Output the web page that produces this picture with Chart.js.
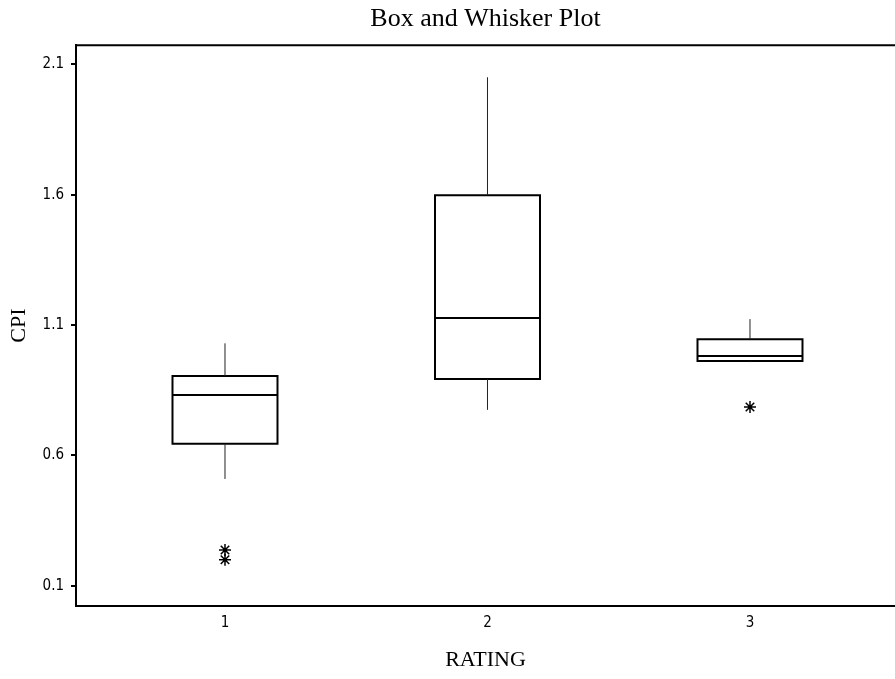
<!DOCTYPE html>
<html>
<head>
<meta charset="utf-8">
<title>Box and Whisker Plot</title>
<script src="https://cdn.jsdelivr.net/npm/chart.js@4.4.1/dist/chart.umd.min.js"></script>
<style>
    html, body { margin: 0; padding: 0; background: #fff; overflow: hidden; }
    #wrap { width: 895px; height: 679px; }
</style>
</head>
<body>
<div id="wrap"><canvas id="boxChart"></canvas></div>
<script>
// CPI by rating group
const ratings = ['1', '2', '3'];
const whiskerLow = [0.51, 0.775, 0.958];
const q1 = [0.645, 0.893, 0.962];
const medians = [0.832, 1.127, 0.981];
const q3 = [0.905, 1.598, 1.046];
const whiskerHigh = [1.03, 2.05, 1.123];
const outliers = [[0.238, 0.2], [], [0.786]];
const yTicks = [0.1, 0.6, 1.1, 1.6, 2.1];

const halfWidth = 0.2; // half box width in rating units
const gap = x => ({ x: x, y: null });

const boxPoints = [];
const medianPoints = [];
const whiskerPoints = [];
const outlierPoints = [];

ratings.forEach((r, i) => {
    const x = i + 1;
    boxPoints.push(
        { x: x - halfWidth, y: q1[i] },
        { x: x + halfWidth, y: q1[i] },
        { x: x + halfWidth, y: q3[i] },
        { x: x - halfWidth, y: q3[i] },
        { x: x - halfWidth, y: q1[i] },
        gap(x)
    );
    medianPoints.push(
        { x: x - halfWidth, y: medians[i] },
        { x: x + halfWidth, y: medians[i] },
        gap(x)
    );
    whiskerPoints.push(
        { x: x, y: q3[i] }, { x: x, y: whiskerHigh[i] }, gap(x),
        { x: x, y: whiskerLow[i] }, { x: x, y: q1[i] }, gap(x)
    );
    outliers[i].forEach(v => outlierPoints.push({ x: x, y: v }));
});

const serif = "'Liberation Serif', 'Times New Roman', serif";
const narrow = "'Liberation Sans Narrow', 'DejaVu Sans Condensed', sans-serif";

// top edge of the plot frame
const frameTop = {
    id: 'frameTop',
    afterDraw(chart) {
        const { ctx, chartArea } = chart;
        ctx.save();
        ctx.strokeStyle = '#000';
        ctx.lineWidth = 2;
        ctx.beginPath();
        ctx.moveTo(chartArea.left - 1, chartArea.top);
        ctx.lineTo(chartArea.right, chartArea.top);
        ctx.stroke();
        ctx.restore();
    }
};

new Chart(document.getElementById('boxChart'), {
    type: 'scatter',
    data: {
        datasets: [
            {
                label: 'Whiskers',
                data: whiskerPoints,
                showLine: true,
                spanGaps: false,
                borderColor: '#222',
                borderWidth: 1,
                pointRadius: 0
            },
            {
                label: 'Boxes',
                data: boxPoints,
                showLine: true,
                spanGaps: false,
                borderColor: '#000',
                borderWidth: 2,
                borderJoinStyle: 'miter',
                borderCapStyle: 'square',
                pointRadius: 0
            },
            {
                label: 'Medians',
                data: medianPoints,
                showLine: true,
                spanGaps: false,
                borderColor: '#000',
                borderWidth: 2,
                pointRadius: 0
            },
            {
                label: 'Outliers',
                data: outlierPoints,
                pointStyle: 'star',
                pointRadius: 6,
                borderColor: '#000',
                borderWidth: 1.5,
                backgroundColor: '#000'
            }
        ]
    },
    options: {
        responsive: true,
        maintainAspectRatio: false,
        animation: false,
        layout: { padding: 0, autoPadding: false },
        plugins: {
            legend: { display: false },
            tooltip: { enabled: false },
            title: {
                display: true,
                fullSize: false,
                text: 'Box and Whisker Plot',
                color: '#000',
                font: { family: serif, size: 26, weight: 'normal' },
                padding: { top: 4, bottom: 10 }
            }
        },
        scales: {
            x: {
                type: 'linear',
                min: 0.4324,
                max: 3.5524,
                afterFit: scale => { scale.height = 73; },
                afterBuildTicks: scale => {
                    scale.ticks = ratings.map((r, i) => ({ value: i + 1 }));
                },
                ticks: {
                    color: '#000',
                    padding: 8,
                    font: { family: narrow, size: 15 },
                    callback: value => ratings[value - 1]
                },
                grid: { display: false, drawTicks: false },
                border: { display: true, color: '#000', width: 2 },
                title: {
                    display: true,
                    text: 'RATING',
                    color: '#000',
                    font: { family: serif, size: 22 },
                    padding: { top: 0, bottom: 6 }
                }
            },
            y: {
                type: 'linear',
                min: 0.023,
                max: 2.173,
                afterFit: scale => { scale.width = 76; },
                afterBuildTicks: scale => {
                    scale.ticks = yTicks.map(v => ({ value: v }));
                },
                ticks: {
                    color: '#000',
                    padding: 7,
                    font: { family: narrow, size: 15 },
                    callback: value => value.toFixed(1)
                },
                grid: {
                    drawOnChartArea: false,
                    drawTicks: true,
                    tickLength: 5,
                    color: '#000',
                    lineWidth: 2
                },
                border: { display: true, color: '#000', width: 2 },
                title: {
                    display: true,
                    text: 'CPI',
                    color: '#000',
                    font: { family: serif, size: 22 },
                    padding: { top: 6, bottom: 0 }
                }
            }
        }
    },
    plugins: [frameTop]
});
</script>
</body>
</html>
